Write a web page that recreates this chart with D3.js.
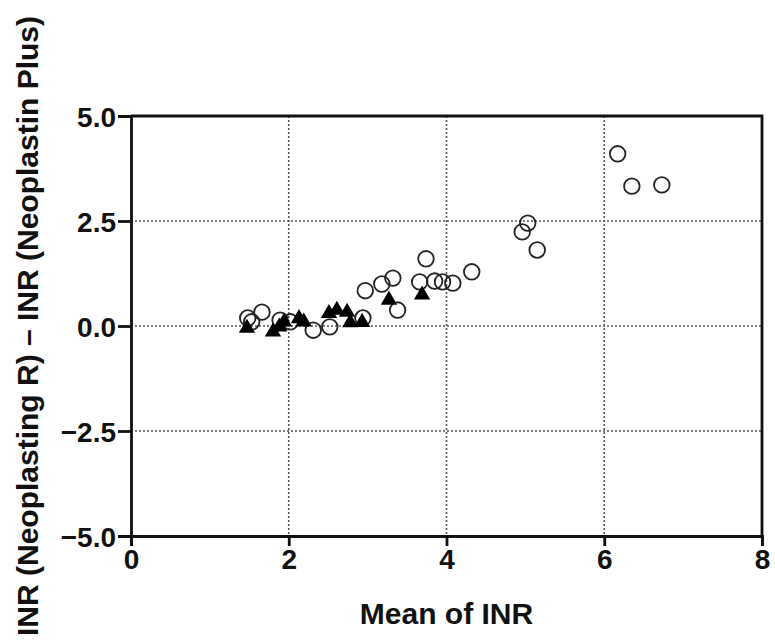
<!DOCTYPE html>
<html>
<head>
<meta charset="utf-8">
<script src="https://cdn.jsdelivr.net/npm/d3@7"></script>
<style>
body { margin: 0; background: #fff; }
text { font-family: "Liberation Sans", Arial, sans-serif; font-weight: bold; }
</style>
</head>
<body>
<div class="chart"></div>
<script>
var w = 775;
var h = 642;
var margin = {top: 116, right: 13, bottom: 106, left: 131};

// open circles: mean INR, difference
var circleX = [1.48, 1.66, 1.53, 1.89, 2.02, 2.31, 2.52, 2.94, 2.97, 3.18, 3.32, 3.38, 3.74, 3.66, 3.85, 3.95, 4.08, 4.32, 4.96, 5.03, 5.15, 6.17, 6.35, 6.73];
var circleY = [0.19, 0.33, 0.10, 0.14, 0.10, -0.10, -0.02, 0.19, 0.84, 1.00, 1.14, 0.38, 1.60, 1.05, 1.07, 1.05, 1.02, 1.29, 2.24, 2.45, 1.81, 4.10, 3.33, 3.36];

// filled triangles
var triX = [1.47, 1.80, 1.88, 1.94, 2.13, 2.19, 2.51, 2.61, 2.74, 2.78, 2.93, 3.27, 3.69];
var triY = [-0.05, -0.14, -0.02, 0.10, 0.18, 0.10, 0.30, 0.38, 0.33, 0.08, 0.09, 0.62, 0.74];

var xTicks = [0, 2, 4, 6, 8];
var yTicks = [-5, -2.5, 0, 2.5, 5];

var iw = w - margin.left - margin.right;
var ih = h - margin.top - margin.bottom;

var xScale = d3.scaleLinear()
    .domain([0, 8])
    .range([0, iw]);

var yScale = d3.scaleLinear()
    .domain([-5, 5])
    .range([ih, 0]);

var svg = d3.select(".chart")
    .append("svg")
    .attr("width", w)
    .attr("height", h);

var g = svg.append("g")
    .attr("transform", "translate(" + margin.left + "," + margin.top + ")");

// dotted grid
g.selectAll("line.gx")
    .data(xTicks.slice(1, -1))
    .enter()
    .append("line")
    .attr("class", "gx")
    .attr("x1", function(d) { return xScale(d); })
    .attr("x2", function(d) { return xScale(d); })
    .attr("y1", 0)
    .attr("y2", ih)
    .attr("stroke", "#555")
    .attr("stroke-width", 1.6)
    .attr("stroke-dasharray", "2,2");

g.selectAll("line.gy")
    .data(yTicks.slice(1, -1))
    .enter()
    .append("line")
    .attr("class", "gy")
    .attr("x1", 0)
    .attr("x2", iw)
    .attr("y1", function(d) { return yScale(d); })
    .attr("y2", function(d) { return yScale(d); })
    .attr("stroke", "#555")
    .attr("stroke-width", 1.6)
    .attr("stroke-dasharray", "2,2");

// frame top + right
g.append("path")
    .attr("d", "M0,0H" + iw + "V" + ih)
    .attr("fill", "none")
    .attr("stroke", "#111")
    .attr("stroke-width", 2.8);

var xAxis = g.append("g")
    .attr("transform", "translate(0," + ih + ")")
    .call(d3.axisBottom(xScale).tickValues(xTicks).tickFormat(d3.format("d")).tickSize(10).tickPadding(3));

var yAxis = g.append("g")
    .call(d3.axisLeft(yScale).tickValues(yTicks).tickFormat(function(d) {
        return d3.format(".1f")(d).replace("-", "\u2212");
    }).tickSize(13).tickPadding(2));

[xAxis, yAxis].forEach(function(ax) {
    ax.select(".domain").attr("stroke", "#111").attr("stroke-width", 2.8);
    ax.selectAll(".tick line").attr("stroke", "#111").attr("stroke-width", 2.8);
    ax.selectAll(".tick text").attr("fill", "#111").style("font-size", "28px");
});
yAxis.selectAll(".tick text").attr("dy", "0.36em");

// open circles
g.selectAll("circle")
    .data(circleX)
    .enter()
    .append("circle")
    .attr("cx", function(d) { return xScale(d); })
    .attr("cy", function(d, i) { return yScale(circleY[i]); })
    .attr("r", 7.8)
    .attr("fill", "none")
    .attr("stroke", "#222")
    .attr("stroke-width", 1.8);

// filled triangles
g.selectAll("path.tri")
    .data(triX)
    .enter()
    .append("path")
    .attr("class", "tri")
    .attr("d", d3.symbol().type(d3.symbolTriangle).size(115))
    .attr("transform", function(d, i) {
        return "translate(" + xScale(d) + "," + yScale(triY[i]) + ")";
    })
    .attr("fill", "#000");

svg.append("text")
    .attr("x", margin.left + iw / 2)
    .attr("y", 624)
    .attr("text-anchor", "middle")
    .style("font-size", "30px")
    .attr("fill", "#111")
    .text("Mean of INR");

svg.append("text")
    .attr("transform", "translate(38," + (margin.top + ih / 2) + ") rotate(-90)")
    .attr("text-anchor", "middle")
    .style("font-size", "30px")
    .attr("fill", "#111")
    .text("INR (Neoplasting R) \u2013 INR (Neoplastin Plus)");
</script>
</body>
</html>
